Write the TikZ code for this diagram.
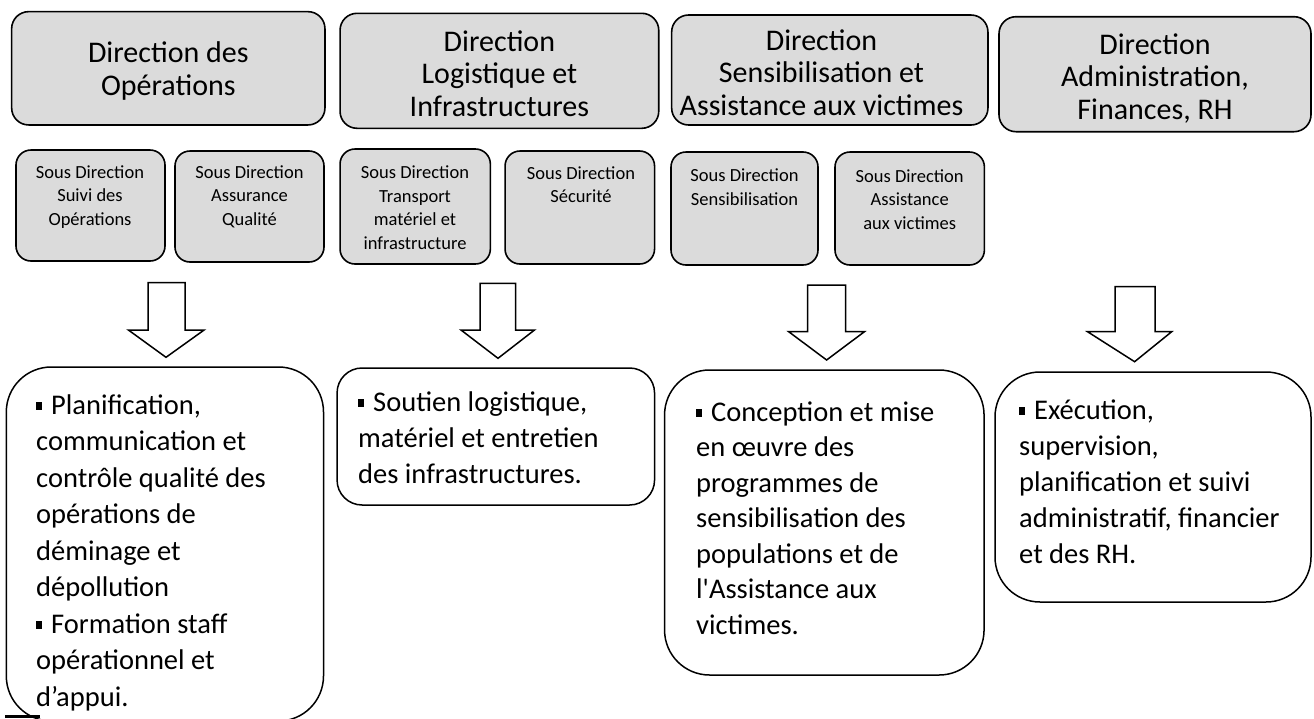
\documentclass[tikz,border=0pt]{standalone}
\usepackage{fontspec}
\setmainfont{Carlito}
\tikzset{
  dirbox/.style={draw=black, line width=1.6pt, rounded corners=17pt, fill=black!14, inner sep=0pt},
  dirtext/.style={align=center, anchor=base, inner sep=0pt, font=\fontsize{30}{32.5}\selectfont},
  subbox/.style={draw=black, line width=1.6pt, rounded corners=15pt, fill=black!14, inner sep=0pt},
  subtext/.style={align=center, anchor=base, inner sep=0pt, font=\fontsize{18.5}{23.5}\selectfont},
  resbox/.style={draw=black, line width=1.5pt, fill=white, inner sep=0pt},
  restext/.style={align=left, anchor=base west, inner sep=0pt, font=\fontsize{28.5}{36}\selectfont},
  blockarrow/.style={draw=black, line width=1.5pt, fill=white, line join=miter},
}
\newcommand\sqb{\rule[4pt]{6pt}{8.5pt}\hspace{9pt}}
% shaft x1, shaft x2, top y, head y, head x1, head x2, tip x, tip y
\newcommand\blockarr[8]{%
  \draw[blockarrow] (#1,#3) -- (#2,#3) -- (#2,#4) -- (#6,#4) -- (#7,#8) -- (#5,#4) -- (#1,#4) -- cycle;}
\begin{document}
\begin{tikzpicture}[x=1pt,y=-1pt]
\useasboundingbox (0,0) rectangle (1314,718);

% Directions
\node[dirbox, minimum width=313.3pt, minimum height=113.3pt] (B1) at (168.3,68.3) {};
\node[dirbox, minimum width=318.7pt, minimum height=115pt] (B2) at (499.4,70.8) {};
\node[dirbox, minimum width=316.3pt, minimum height=110pt] (B3) at (829.8,70) {};
\node[dirbox, minimum width=312pt, minimum height=115pt] (B4) at (1155,74.2) {};

\node[dirtext] (D1) at (168.3,95) {Direction des\\Opérations};
\node[dirtext] (D2) at (499.4,116) {Direction\\Logistique et\\Infrastructures};
\node[dirtext] (D3) at (821.5,115) {Direction\\Sensibilisation et\\Assistance aux victimes};
\node[dirtext] (D4) at (1155,119) {Direction\\Administration,\\Finances, RH};

% Sous directions
\node[subbox, minimum width=149pt, minimum height=111pt] (S1) at (90.5,205.5) {};
\node[subbox, minimum width=149pt, minimum height=111pt] (S2) at (249.5,206.5) {};
\node[subbox, minimum width=150.3pt, minimum height=115pt] (S3) at (415.2,206.5) {};
\node[subbox, minimum width=149.5pt, minimum height=113pt] (S4) at (579.8,207.5) {};
\node[subbox, minimum width=147pt, minimum height=113pt] (S5) at (744.5,208.5) {};
\node[subbox, minimum width=149.4pt, minimum height=113pt] (S6) at (909.7,208.5) {};

\node[subtext] (T1) at (90,225) {Sous Direction\\Suivi des\\Opérations};
\node[subtext] (T2) at (249.5,225) {Sous Direction\\Assurance\\Qualité};
\node[subtext] (T3) at (415,249) {Sous Direction\\Transport\\matériel et\\infrastructure};
\node[subtext] (T4) at (581,202.5) {Sous Direction\\Sécurité};
\node[subtext] (T5) at (744.5,205) {Sous Direction\\Sensibilisation};
\node[subtext] (T6) at (909.7,229) {Sous Direction\\Assistance\\aux victimes};

% Block arrows
\blockarr{148}{185.2}{282.7}{330}{128.4}{204.1}{166}{357.3}
\blockarr{480}{515.6}{283.3}{330}{461}{534.5}{498}{358.3}
\blockarr{807.6}{845.5}{285}{331.7}{788.7}{864.4}{826.6}{360}
\blockarr{1115}{1155}{286.7}{331.7}{1087.5}{1171.7}{1134.6}{361.7}

% Result boxes
\node[resbox, rounded corners=45pt, minimum width=317.2pt, minimum height=354pt] (C1) at (164.9,544) {};
\node[resbox, rounded corners=25pt, minimum width=317.5pt, minimum height=137pt] (C2) at (495.8,436.5) {};
\node[resbox, rounded corners=45pt, minimum width=319.5pt, minimum height=305pt] (C3) at (824.3,522.5) {};
\node[resbox, rounded corners=45pt, minimum width=316pt, minimum height=230pt] (C4) at (1153,487) {};
\draw[line width=3pt] (5,716.5) -- (40,716.5);

\node[restext, font=\fontsize{28.5}{36.5}\selectfont] (R1) at (36,706) {\sqb Planification,\\communication et\\contrôle qualité des\\opérations de\\déminage et\\dépollution\\\sqb Formation staff\\opérationnel et\\d’appui.};
\node[restext] (R2) at (358,483) {\sqb Soutien logistique,\\matériel et entretien\\des infrastructures.};
\node[restext, font=\fontsize{28.5}{35.5}\selectfont] (R3) at (696,634) {\sqb Conception et mise\\en œuvre des\\programmes de\\sensibilisation des\\populations et de\\l\textquotesingle Assistance aux\\victimes.};
\node[restext] (R4) at (1019,563) {\sqb Exécution,\\supervision,\\planification et suivi\\administratif, financier\\et des RH.};
\end{tikzpicture}
\end{document}
